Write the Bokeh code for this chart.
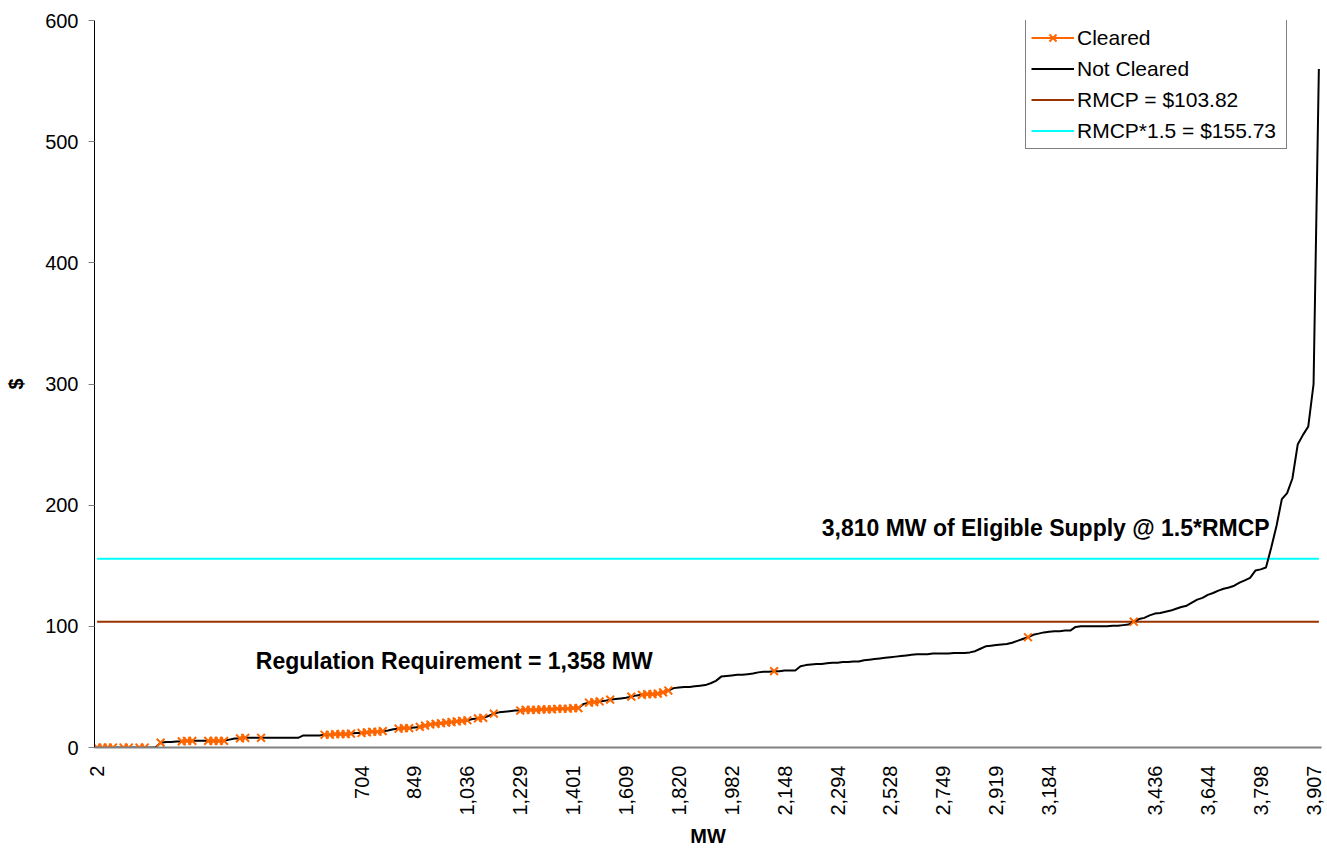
import math
from bokeh.plotting import figure
from bokeh.models import Label, Legend, LegendItem, FixedTicker
from bokeh.embed import file_html
from bokeh.resources import INLINE

# ---- data (category index = offer rank) ----
offer_price = [
    0, 0, 0, 0, 0, 0, 0, 0, 0, 0, 0, 0,                 # 0-11
    4, 4.5, 4.5, 5, 5, 5.5, 5.5, 5.5, 5.5, 5.5, 5.5, 5.5, 5.5,  # 12-24
    6.5, 7.5, 7.5, 8, 8, 8, 8,                          # 25-31
    8, 8, 8, 8, 8, 8, 8,                                # 32-38
    10, 10, 10, 10, 10.5, 10.5, 11, 11, 11, 11.5,       # 39-48
    12, 12, 12.5, 13, 13, 13.5, 14, 15, 15.5, 16, 16,   # 49-59
    16.5, 17, 18, 19, 19.5, 20, 20.5, 21, 21.5, 22, 22.5,  # 60-70
    23.5, 24, 24.5, 26, 28, 29, 29.5, 30, 30.5,         # 71-79
    30.5, 31, 31, 31, 31.5, 31.5, 31.5, 32, 32, 32, 32.5, 32.5,  # 80-91
    36, 37, 37.5, 38, 38.5, 39.5, 40, 40.5,             # 92-99
    41, 42, 43, 43.5, 44, 44, 44.5, 45.5, 47, 49,       # 100-109
    49.5, 50, 50, 50.5, 51, 51.5, 53, 55, 58.5, 59,     # 110-119
    59.5, 60, 60, 60.5, 61, 62, 62.5, 62.5, 63, 63,     # 120-129
    63.5, 63.5, 63.5, 67, 68, 68.5, 69, 69, 69.5, 70,   # 130-139
    70, 70.5, 70.5, 71, 71, 72, 72.5, 73, 73.5, 74,     # 140-149
    74.5, 75, 75.5, 76, 76.5, 77, 77, 77, 77.5, 77.5,   # 150-159
    77.5, 77.5, 78, 78, 78, 78.5, 79.5, 81.5, 83.5, 84, # 160-169
    84.5, 85, 85.5, 86.5, 88, 89.5, 91, 93, 94, 95,     # 170-179
    95.5, 96, 96, 96.5, 96.5, 99.5, 100, 100, 100, 100, # 180-189
    100, 100, 100.5, 100.5, 101, 101.5, 103.82, 106, 107, 109,  # 190-199
    110.5, 111, 112, 113, 114.5, 116, 117, 119.5, 122, 123.5,  # 200-209
    126, 127.5, 129.5, 131, 132, 133.5, 136, 138, 140, 146,    # 210-219
    147, 148.5, 165, 183, 205, 210, 222, 250, 258, 265,        # 220-229
    300, 560,                                                  # 230-231
]

cleared_idx = (
    [0, 1, 2, 3, 5, 6, 8, 9, 12, 16, 17, 18, 21, 22, 23, 24, 27, 28, 31]
    + [43, 44, 45, 46, 47, 48, 50, 51, 52, 53, 54, 57, 58, 59]
    + [61, 62, 63, 64, 65, 66, 67, 68, 69, 70, 72, 73, 75]
    + [80, 81, 82, 83, 84, 85, 86, 87, 88, 89, 90, 91, 93, 94, 95, 97]
    + [101, 103, 104, 105, 106, 107, 108, 128, 176, 196]
)

tick_idx = [0, 50, 60, 70, 80, 90, 100, 110, 120, 130, 140, 150, 160,
            170, 180, 200, 210, 220, 230]
tick_labels = ["2", "704", "849", "1,036", "1,229", "1,401", "1,609",
               "1,820", "1,982", "2,148", "2,294", "2,528", "2,749",
               "2,919", "3,184", "3,436", "3,644", "3,798", "3,907"]

rmcp = 103.82
rmcp_15 = 155.73
regulation_req_mw = "1,358"
eligible_mw = "3,810"

# ---- derived series ----
n = len(offer_price)
xs = list(range(n))
cleared_set = set(cleared_idx)
cleared_y = [offer_price[i] if i in cleared_set else float("nan") for i in xs]
rmcp_y = [rmcp] * n
rmcp15_y = [rmcp_15] * n

FONT = "Liberation Sans"

p = figure(width=1327, height=849, x_range=(-0.5, n - 0.5), y_range=(0, 600),
           output_backend="svg", toolbar_location=None,
           min_border_left=94, min_border_right=6, min_border_top=20,
           min_border_bottom=102)
p.grid.visible = False
p.outline_line_color = None
p.background_fill_color = "white"

r_rmcp = p.line(xs, rmcp_y, line_color="#993300", line_width=2)
r_rmcp15 = p.line(xs, rmcp15_y, line_color="#00FFFF", line_width=2)
r_all = p.line(xs, offer_price, line_color="black", line_width=2)
r_cl_line = p.line(xs, cleared_y, line_color="#FF6600", line_width=2)
r_cl_pts = p.scatter(xs, cleared_y, marker="x", size=11, line_color="#FF6600",
                     line_width=2)

# axes
yax = p.yaxis[0]
yax.ticker = FixedTicker(ticks=[0, 100, 200, 300, 400, 500, 600])
yax.axis_line_color = "black"
yax.axis_line_width = 1
yax.major_tick_line_color = "#808080"
yax.major_tick_out = 6
yax.major_tick_in = 0
yax.minor_tick_line_color = None
yax.major_label_text_font = FONT
yax.major_label_text_font_size = "20px"
yax.major_label_text_color = "black"
yax.major_label_standoff = 10
yax.axis_label = "$"
yax.axis_label_text_font = FONT
yax.axis_label_text_font_style = "bold"
yax.axis_label_text_font_size = "20px"
yax.axis_label_text_color = "black"
yax.axis_label_standoff = 15

xax = p.xaxis[0]
xax.ticker = FixedTicker(ticks=tick_idx)
xax.major_label_overrides = {t: l for t, l in zip(tick_idx, tick_labels)}
xax.major_label_orientation = math.pi / 2
xax.axis_line_color = "#808080"
xax.axis_line_width = 2
xax.major_tick_line_color = None
xax.major_tick_out = 0
xax.major_tick_in = 0
xax.minor_tick_line_color = None
xax.major_label_text_font = FONT
xax.major_label_text_font_size = "20px"
xax.major_label_text_color = "black"
xax.major_label_standoff = 18
xax.axis_label = "MW"
xax.axis_label_text_font = FONT
xax.axis_label_text_font_style = "bold"
xax.axis_label_text_font_size = "20px"
xax.axis_label_text_color = "black"
xax.axis_label_standoff = 6

legend = Legend(items=[
    LegendItem(label="Cleared", renderers=[r_cl_line, r_cl_pts]),
    LegendItem(label="Not Cleared", renderers=[r_all]),
    LegendItem(label=f"RMCP = ${rmcp:.2f}", renderers=[r_rmcp]),
    LegendItem(label=f"RMCP*1.5 = ${rmcp_15:.2f}", renderers=[r_rmcp15]),
], location=(931, 598))
legend.label_text_font = FONT
legend.label_text_font_size = "21px"
legend.label_text_color = "black"
legend.border_line_color = "black"
legend.border_line_width = 1
legend.background_fill_color = "white"
legend.background_fill_alpha = 1
legend.padding = 5
legend.spacing = 6
legend.margin = 0
legend.glyph_width = 43
legend.glyph_height = 25
legend.label_height = 25
legend.label_width = 204
legend.label_standoff = 3
p.add_layout(legend)

p.add_layout(Label(x=30, y=71, text=f"Regulation Requirement = {regulation_req_mw} MW",
                   text_font=FONT, text_font_style="bold", text_font_size="23px",
                   text_baseline="middle", text_align="left", text_color="black"))
p.add_layout(Label(x=137, y=181.5,
                   text=f"{eligible_mw} MW of Eligible Supply @ 1.5*RMCP",
                   text_font=FONT, text_font_style="bold", text_font_size="23px",
                   text_baseline="middle", text_align="left", text_color="black"))

open("out.html", "w").write(file_html(p, INLINE))
